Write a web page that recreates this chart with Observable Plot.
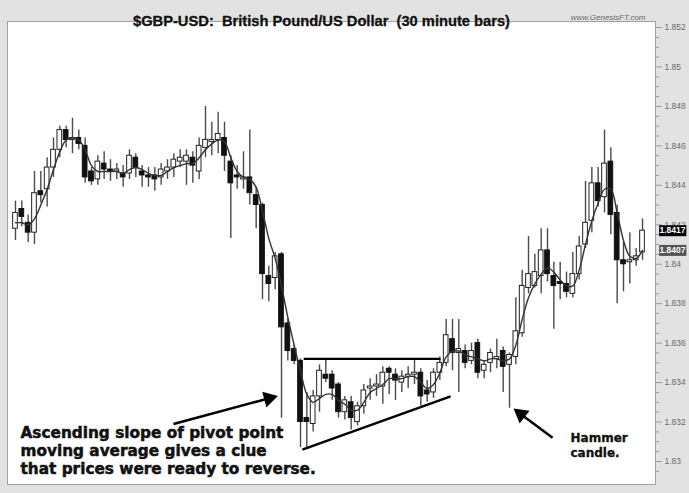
<!DOCTYPE html>
<html>
<head>
<meta charset="utf-8">
<script src="https://cdn.jsdelivr.net/npm/d3@7"></script>
<script src="https://cdn.jsdelivr.net/npm/@observablehq/plot@0.6"></script>
<style>
  html, body { margin: 0; padding: 0; background: #e2e2e2; }
  svg text { white-space: pre; }
</style>
</head>
<body>
<div id="chart"></div>
<script>
// 30-minute bars, GBP/USD
const open = [1.8418,1.8428,1.8421,1.8416,1.8437,1.8438,1.8449,1.8458,1.8468,1.8463,
1.8464,1.8460,1.8447,1.8443,1.8451,1.8448,1.8447,1.8446,1.8446,1.8454,
1.8447,1.8445,1.8445,1.8444,1.8447,1.8449,1.8452,1.8452,1.8454,1.8447,
1.8459,1.8462,1.8463,1.8464,1.8452,1.8445,1.8443,1.8444,1.8435,1.8430,
1.8394,1.8393,1.8405,1.8370,1.8357,1.8351,1.8322,1.8319,1.8333,1.8344,
1.8344,1.8339,1.8325,1.8330,1.8320,1.8328,1.8337,1.8338,1.8338,1.8347,
1.8344,1.8340,1.8343,1.8344,1.8345,1.8336,1.8335,1.8345,1.8350,1.8362,
1.8355,1.8356,1.8351,1.8360,1.8346,1.8350,1.8352,1.8356,1.8349,1.8353,
1.8365,1.8388,1.8389,1.8394,1.8407,1.8394,1.8391,1.8390,1.8385,1.8395,
1.8410,1.8422,1.8441,1.8434,1.8452,1.8426,1.8402,1.8401,1.8402,1.8406];
const close = [1.8426,1.8424,1.8416,1.8436,1.8435,1.8449,1.8458,1.8468,1.8463,1.8464,
1.8461,1.8444,1.8442,1.8452,1.8448,1.8447,1.8448,1.8444,1.8455,1.8449,
1.8445,1.8444,1.8443,1.8448,1.8449,1.8453,1.8454,1.8455,1.8450,1.8460,
1.8463,1.8463,1.8466,1.8455,1.8441,1.8444,1.8444,1.8436,1.8430,1.8395,
1.8390,1.8404,1.8368,1.8356,1.8351,1.8320,1.8320,1.8333,1.8346,1.8342,
1.8337,1.8325,1.8331,1.8322,1.8328,1.8336,1.8338,1.8339,1.8345,1.8345,
1.8341,1.8343,1.8344,1.8345,1.8333,1.8334,1.8345,1.8350,1.8364,1.8355,
1.8357,1.8350,1.8356,1.8345,1.8349,1.8355,1.8353,1.8348,1.8354,1.8366,
1.8389,1.8395,1.8396,1.8407,1.8395,1.8389,1.8390,1.8386,1.8395,1.8409,
1.8421,1.8441,1.8432,1.8451,1.8425,1.8402,1.8400,1.8402,1.8404,1.8417];
const high = [1.8432,1.8432,1.8425,1.8447,1.8447,1.8454,1.8464,1.8470,1.8470,1.8474,
1.8468,1.8464,1.8449,1.8455,1.8457,1.8453,1.8451,1.8450,1.8458,1.8456,
1.8450,1.8449,1.8449,1.8451,1.8453,1.8456,1.8458,1.8458,1.8457,1.8464,
1.8480,1.8472,1.8477,1.8472,1.8455,1.8450,1.8457,1.8468,1.8439,1.8431,
1.8399,1.8406,1.8406,1.8372,1.8359,1.8352,1.8335,1.8336,1.8349,1.8352,
1.8346,1.8340,1.8333,1.8333,1.8330,1.8339,1.8342,1.8344,1.8348,1.8348,
1.8347,1.8346,1.8348,1.8352,1.8347,1.8341,1.8347,1.8353,1.8372,1.8372,
1.8372,1.8359,1.8360,1.8362,1.8351,1.8357,1.8362,1.8358,1.8355,1.8383,
1.8397,1.8414,1.8405,1.8418,1.8418,1.8401,1.8401,1.8396,1.8406,1.8414,
1.8442,1.8449,1.8449,1.8468,1.8459,1.8430,1.8411,1.8416,1.8408,1.8423];
const low = [1.8412,1.8419,1.8411,1.8410,1.8431,1.8429,1.8444,1.8454,1.8459,1.8456,
1.8458,1.8441,1.8440,1.8440,1.8443,1.8442,1.8443,1.8439,1.8443,1.8444,
1.8439,1.8439,1.8437,1.8440,1.8443,1.8444,1.8449,1.8440,1.8441,1.8443,
1.8454,1.8455,1.8456,1.8447,1.8413,1.8438,1.8438,1.8430,1.8418,1.8382,
1.8381,1.8387,1.8322,1.8351,1.8349,1.8307,1.8307,1.8315,1.8325,1.8340,
1.8331,1.8322,1.8321,1.8316,1.8318,1.8324,1.8331,1.8333,1.8329,1.8334,
1.8331,1.8335,1.8337,1.8339,1.8328,1.8330,1.8332,1.8341,1.8348,1.8346,
1.8335,1.8347,1.8349,1.8342,1.8342,1.8345,1.8347,1.8335,1.8327,1.8349,
1.8363,1.8385,1.8388,1.8385,1.8391,1.8367,1.8382,1.8383,1.8383,1.8392,
1.8408,1.8416,1.8429,1.8426,1.8415,1.8380,1.8386,1.8390,1.8399,1.8402];
const pivotMA = [1.8421,1.8421,1.8420,1.8423,1.8430,1.8438,1.8448,1.8457,1.8463,1.8464,
1.8463,1.8458,1.8450,1.8447,1.8447,1.8447,1.8447,1.8446,1.8448,1.8449,
1.8448,1.8446,1.8445,1.8445,1.8447,1.8449,1.8450,1.8451,1.8451,1.8454,
1.8458,1.8461,1.8463,1.8462,1.8454,1.8447,1.8444,1.8443,1.8439,1.8427,
1.8413,1.8403,1.8389,1.8373,1.8359,1.8346,1.8334,1.8330,1.8332,1.8334,
1.8334,1.8331,1.8329,1.8326,1.8326,1.8330,1.8335,1.8337,1.8339,1.8342,
1.8342,1.8342,1.8343,1.8343,1.8340,1.8337,1.8339,1.8345,1.8353,1.8356,
1.8356,1.8354,1.8353,1.8352,1.8351,1.8352,1.8352,1.8351,1.8352,1.8359,
1.8372,1.8383,1.8390,1.8395,1.8398,1.8396,1.8392,1.8389,1.8389,1.8397,
1.8410,1.8422,1.8431,1.8438,1.8438,1.8426,1.8412,1.8404,1.8403,1.8407];

// axis ticks
const yTicks = [1.83, 1.832, 1.834, 1.836, 1.838, 1.84, 1.842, 1.844, 1.846, 1.848, 1.85, 1.852];
const yMinorTicks = [1.8295,1.8305,1.831,1.8315,1.8325,1.833,1.8335,1.8345,1.835,1.8355,1.8365,1.837,1.8375,
  1.8385,1.839,1.8395,1.8405,1.841,1.8415,1.8425,1.843,1.8435,1.8445,1.845,1.8455,1.8465,1.847,1.8475,
  1.8485,1.849,1.8495,1.8505,1.851,1.8515];
const lastLabels = [1.8417, 1.8407];
const lastLabelColors = ["#000", "#555"];

// annotations (bar index, price)
const resistance = [{x1: 45.5, y1: 1.8352, x2: 67.1, y2: 1.8352}];
const support = [{x1: 45.3, y1: 1.8306, x2: 68.7, y2: 1.8333}];
const arrowShafts = [{x1: 24.95, y1: 1.8319, x2: 40.0, y2: 1.8332}, {x1: 84.8, y1: 1.8312, x2: 79.8, y2: 1.8324}];
const arrowHeads = [{x: 40.0, y: 1.8332, angle: 75}, {x: 79.8, y: 1.8324, angle: -52}];

const titleText = "$GBP-USD:  British Pound/US Dollar  (30 minute bars)";
const siteText = "www.GenesisFT.com";
const noteText = "Ascending slope of pivot point\nmoving average gives a clue\nthat prices were ready to reverse.";
const hammerText = "Hammer\ncandle.";

const xDomain = [-1.26, 101.05];
const yDomain = [1.828834, 1.852304];
const labelBoxX = [101.7, 106.0];

const bars = open.map((o, i) => ({i, open: o, close: close[i], high: high[i], low: low[i], ma: pivotMA[i]}));
const down = bars.filter(d => d.close < d.open);
const up = bars.filter(d => d.close >= d.open);
const boxes = lastLabels.map((v, k) => ({v, c: lastLabelColors[k]}));

const heavy = "'DejaVu Sans', 'Liberation Sans', sans-serif";

const chart = Plot.plot({
  width: 689,
  height: 493,
  marginTop: 21,
  marginRight: 34,
  marginBottom: 9,
  marginLeft: 7,
  x: {domain: xDomain, axis: null},
  y: {domain: yDomain, axis: null},
  style: {background: "#e2e2e2", fontFamily: "'Liberation Sans', Arial, sans-serif", overflow: "visible"},
  marks: [
    Plot.frame({fill: "white", stroke: "#a0a0a0"}),
    Plot.axisY(yMinorTicks, {anchor: "right", tickSize: 3, tickFormat: () => "", stroke: "#999", label: null}),
    Plot.axisY(yTicks, {anchor: "right", tickSize: 6, tickPadding: 3, tickFormat: d => String(+d.toFixed(3)),
      stroke: "#999", fill: "#6a6a6a", fontSize: 8.5, label: null}),
    Plot.ruleX(bars, {x: "i", y1: "low", y2: "high", stroke: "#4a4a4a", strokeWidth: 1.4}),
    Plot.rect(up, {x1: d => d.i - 0.37, x2: d => d.i + 0.37, y1: "open", y2: "close", fill: "white", stroke: "#222", strokeWidth: 1}),
    Plot.rect(down, {x1: d => d.i - 0.37, x2: d => d.i + 0.37, y1: "open", y2: "close", fill: "#111", stroke: "#111", strokeWidth: 1}),
    Plot.line(bars, {x: "i", y: "ma", stroke: "#333", strokeWidth: 1.4, curve: "catmull-rom"}),
    Plot.link(resistance, {x1: "x1", y1: "y1", x2: "x2", y2: "y2", stroke: "#000", strokeWidth: 2.2}),
    Plot.link(support, {x1: "x1", y1: "y1", x2: "x2", y2: "y2", stroke: "#000", strokeWidth: 2.5}),
    Plot.link(arrowShafts, {x1: "x1", y1: "y1", x2: "x2", y2: "y2", stroke: "#000", strokeWidth: 2.5}),
    Plot.dot(arrowHeads, {x: "x", y: "y", symbol: "triangle", r: 6, rotate: "angle", fill: "#000", stroke: "none"}),
    Plot.text([noteText], {frameAnchor: "bottom-left", dx: 13, dy: -11, lineAnchor: "bottom", lineHeight: 1.15,
      fontFamily: heavy, fontSize: 15.3, fontWeight: "bold", fill: "#111", stroke: "#111", strokeWidth: 0.5, text: d => d}),
    Plot.text([hammerText], {frameAnchor: "bottom-right", textAnchor: "start", dx: -85, dy: -28, lineAnchor: "bottom",
      lineHeight: 1.2, fontFamily: heavy, fontSize: 12, fontWeight: "bold", fill: "#111", stroke: "#111", strokeWidth: 0.3, text: d => d}),
    Plot.text([titleText], {frameAnchor: "top", dx: -10, dy: -6, fontSize: 14.7, fontWeight: "bold", fill: "#111",
      stroke: "#111", strokeWidth: 0.3, text: d => d}),
    Plot.text([siteText], {frameAnchor: "top-right", dx: -10, dy: -7, textAnchor: "end", fontSize: 8, fontStyle: "italic", fill: "#666", text: d => d}),
    Plot.ruleY(boxes, {y: "v", x1: labelBoxX[0], x2: labelBoxX[1], stroke: "c", strokeWidth: 11}),
    Plot.text(boxes, {y: "v", frameAnchor: "right", dx: 17, textAnchor: "middle", text: d => String(d.v), fill: "white", fontSize: 8.5, fontWeight: "bold"})
  ]
});
document.getElementById("chart").appendChild(chart);
</script>
</body>
</html>
